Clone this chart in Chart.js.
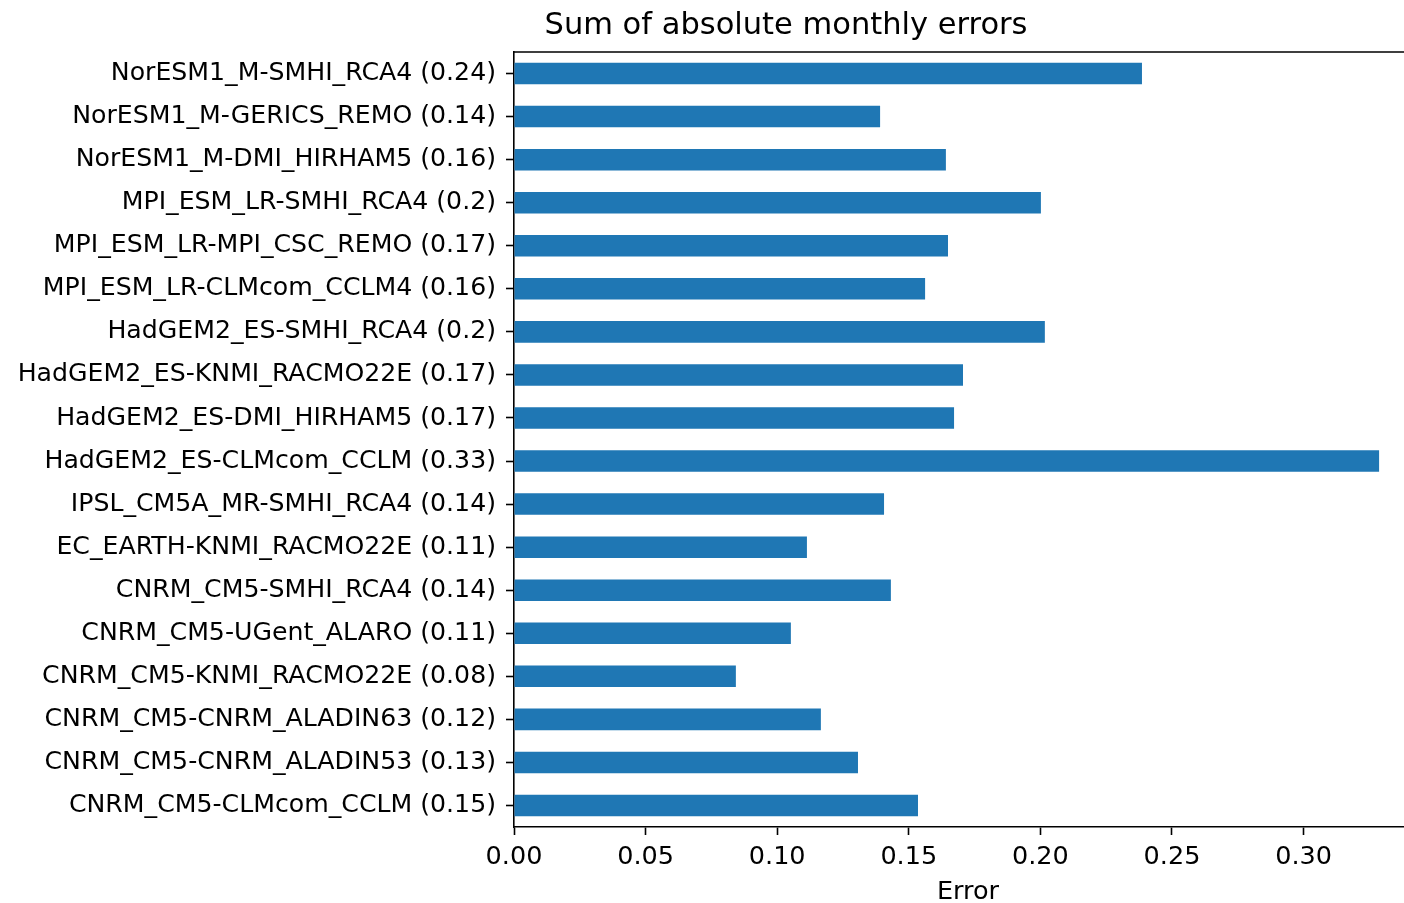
<!DOCTYPE html>
<html>
<head>
<meta charset="utf-8">
<script src="https://cdn.jsdelivr.net/npm/chart.js@4"></script>
<style>
  html, body { margin: 0; padding: 0; background: #fff; overflow: hidden; }
  #wrap { width: 1422px; height: 903px; }
</style>
</head>
<body>
<div id="wrap"><canvas id="errChart" width="1422" height="903"></canvas></div>
<script>
// Model chain labels, top to bottom as in the figure
const categories = [
    'NorESM1_M-SMHI_RCA4 (0.24)',
    'NorESM1_M-GERICS_REMO (0.14)',
    'NorESM1_M-DMI_HIRHAM5 (0.16)',
    'MPI_ESM_LR-SMHI_RCA4 (0.2)',
    'MPI_ESM_LR-MPI_CSC_REMO (0.17)',
    'MPI_ESM_LR-CLMcom_CCLM4 (0.16)',
    'HadGEM2_ES-SMHI_RCA4 (0.2)',
    'HadGEM2_ES-KNMI_RACMO22E (0.17)',
    'HadGEM2_ES-DMI_HIRHAM5 (0.17)',
    'HadGEM2_ES-CLMcom_CCLM (0.33)',
    'IPSL_CM5A_MR-SMHI_RCA4 (0.14)',
    'EC_EARTH-KNMI_RACMO22E (0.11)',
    'CNRM_CM5-SMHI_RCA4 (0.14)',
    'CNRM_CM5-UGent_ALARO (0.11)',
    'CNRM_CM5-KNMI_RACMO22E (0.08)',
    'CNRM_CM5-CNRM_ALADIN63 (0.12)',
    'CNRM_CM5-CNRM_ALADIN53 (0.13)',
    'CNRM_CM5-CLMcom_CCLM (0.15)'
];
const errors = [
    0.2386, 0.1391, 0.1641, 0.2002, 0.1649, 0.1562,
    0.2017, 0.1706, 0.1672, 0.3287, 0.1406, 0.1113,
    0.1432, 0.1052, 0.0843, 0.1166, 0.1307, 0.1535
];
const xTicks = [0, 0.05, 0.10, 0.15, 0.20, 0.25, 0.30];
const titleText = 'Sum of absolute monthly errors';
const xLabel = 'Error';

const FONT = 'DejaVu Sans';

// title sits off-centre in the original figure, and the top/right spines need drawing
const framePlugin = {
    id: 'frame',
    afterDraw(chart) {
        const {ctx, chartArea} = chart;
        ctx.save();
        ctx.strokeStyle = '#000';
        ctx.lineWidth = 1.6;
        ctx.beginPath();
        ctx.moveTo(chartArea.left, chartArea.top);
        ctx.lineTo(chartArea.right, chartArea.top);
        ctx.lineTo(chartArea.right, chartArea.bottom);
        ctx.stroke();
        ctx.fillStyle = '#000';
        ctx.font = '30.5px "' + FONT + '"';
        ctx.textAlign = 'center';
        ctx.textBaseline = 'middle';
        ctx.fillText(titleText, 786, 26);
        ctx.restore();
    }
};

const ctx = document.getElementById('errChart').getContext('2d');
const errChart = new Chart(ctx, {
    type: 'bar',
    data: {
        labels: categories,
        datasets: [{
            data: errors,
            backgroundColor: '#1f77b4',
            borderWidth: 0,
            barPercentage: 0.5,
            categoryPercentage: 1.0
        }]
    },
    options: {
        indexAxis: 'y',
        responsive: false,
        animation: false,
        devicePixelRatio: 1,
        layout: { padding: { top: 52, left: 0, right: 0, bottom: 0 } },
        plugins: {
            legend: { display: false },
            tooltip: { enabled: false },
            title: { display: false }
        },
        scales: {
            x: {
                min: 0,
                max: 0.345,
                afterFit: (scale) => { scale.height = 76; },
                afterBuildTicks: (scale) => {
                    scale.ticks = xTicks.map(v => ({ value: v }));
                },
                border: { display: true, color: '#000', width: 1.6 },
                grid: {
                    display: true,
                    drawOnChartArea: false,
                    drawTicks: true,
                    tickLength: 8,
                    tickColor: '#000',
                    tickWidth: 1.6
                },
                ticks: {
                    color: '#000',
                    padding: 7,
                    maxRotation: 0,
                    font: { family: FONT, size: 25.5 },
                    callback: (v) => Number(v).toFixed(2)
                },
                title: {
                    display: true,
                    text: xLabel,
                    color: '#000',
                    padding: { top: 0, bottom: 0 },
                    font: { family: FONT, size: 25.5, lineHeight: 0.85 }
                }
            },
            y: {
                offset: true,
                afterFit: (scale) => { scale.width = 514; },
                border: { display: true, color: '#000', width: 1.6 },
                grid: {
                    display: true,
                    drawOnChartArea: false,
                    drawTicks: true,
                    tickLength: 8,
                    tickColor: '#000',
                    tickWidth: 1.6,
                    offset: false
                },
                ticks: {
                    color: '#000',
                    padding: 10,
                    autoSkip: false,
                    font: { family: FONT, size: 25.2 }
                }
            }
        }
    },
    plugins: [framePlugin]
});
</script>
</body>
</html>
